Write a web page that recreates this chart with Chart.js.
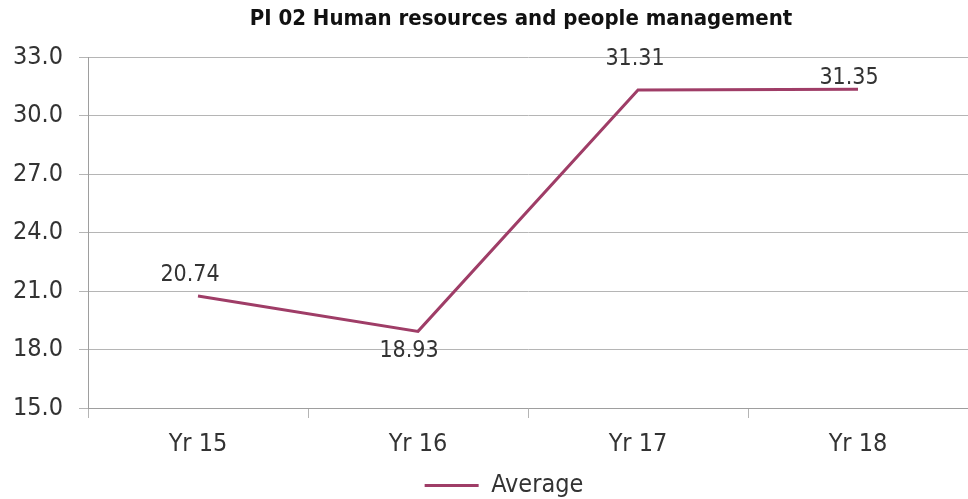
<!DOCTYPE html>
<html>
<head>
<meta charset="utf-8">
<script src="https://cdn.jsdelivr.net/npm/chart.js@4"></script>
<style>
  html, body { margin: 0; padding: 0; background: #fff; }
  #wrap { width: 968px; height: 499px; }
</style>
</head>
<body>
<div id="wrap"><canvas id="piChart"></canvas></div>
<script>
// chart values
const years = ['Yr 15', 'Yr 16', 'Yr 17', 'Yr 18'];
const average = [20.74, 18.93, 31.31, 31.35];
const yTicks = [15, 18, 21, 24, 27, 30, 33];
const chartTitle = 'PI 02 Human resources and people management';

const FONT = '"DejaVu Sans Condensed", "Liberation Sans", sans-serif';

// where each value label sits relative to its point (px)
const labelNudge = [[-8, -21], [-9, 20], [-3, -31], [-9, -11]];

// value labels, the title, and a small nudge of the legend
const annotate = {
  id: 'annotate',
  afterLayout(chart) {
    const lg = chart.legend;
    const dx = 20, dy = 9;
    lg.left += dx; lg.right += dx;
    lg.top += dy; lg.bottom += dy;
    (lg.legendHitBoxes || []).forEach(b => { b.left += dx; b.top += dy; });
  },
  afterDatasetsDraw(chart) {
    const ctx = chart.ctx;
    const meta = chart.getDatasetMeta(0);
    ctx.save();
    ctx.font = '23px ' + FONT;
    ctx.fillStyle = '#333';
    ctx.textAlign = 'center';
    ctx.textBaseline = 'middle';
    meta.data.forEach(function(pt, i) {
      ctx.fillText(average[i].toFixed(2), pt.x + labelNudge[i][0], pt.y + labelNudge[i][1]);
    });

    ctx.font = 'bold 22px ' + FONT;
    ctx.fillStyle = '#111';
    ctx.fillText(chartTitle, 521, 19);
    ctx.restore();
  }
};

const ctx = document.getElementById('piChart').getContext('2d');
const piChart = new Chart(ctx, {
  type: 'line',
  data: {
    labels: years,
    datasets: [{
      label: 'Average',
      data: average,
      borderColor: '#9f3d67',
      backgroundColor: '#9f3d67',
      borderWidth: 3,
      pointRadius: 0,
      tension: 0
    }]
  },
  options: {
    responsive: true,
    maintainAspectRatio: false,
    animation: false,
    layout: {
      padding: { top: 57, right: 0, left: 0, bottom: 0 }
    },
    plugins: {
      title: { display: false },
      legend: {
        position: 'bottom',
        labels: {
          usePointStyle: true,
          pointStyle: 'line',
          pointStyleWidth: 54,
          padding: 0,
          color: '#333',
          font: { family: FONT, size: 25 }
        }
      },
      tooltip: { enabled: false }
    },
    scales: {
      y: {
        min: 15,
        max: 33,
        afterFit(scale) { scale.width = 88; },
        afterBuildTicks(scale) { scale.ticks = yTicks.map(v => ({ value: v })); },
        grid: {
          color: '#b5b5b5',
          tickLength: 9,
          drawTicks: true
        },
        border: { color: '#9e9e9e' },
        ticks: {
          color: '#333',
          padding: 16,
          font: { family: FONT, size: 25 },
          callback: v => Number(v).toFixed(1)
        }
      },
      x: {
        offset: true,
        afterFit(scale) { scale.height = 56; },
        grid: {
          offset: true,
          drawOnChartArea: false,
          tickLength: 10,
          color: '#b5b5b5'
        },
        border: { color: '#9e9e9e' },
        ticks: {
          color: '#333',
          padding: 11,
          font: { family: FONT, size: 25 }
        }
      }
    }
  },
  plugins: [annotate]
});
</script>
</body>
</html>
